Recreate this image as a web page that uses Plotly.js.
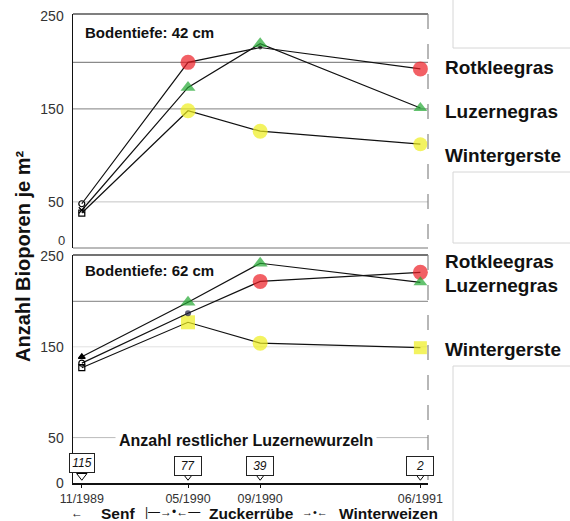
<!DOCTYPE html>
<html>
<head>
<meta charset="utf-8">
<script src="https://cdn.plot.ly/plotly-3.0.1.min.js"></script>
<style>html,body{margin:0;padding:0;background:#fff;}#chart{width:570px;height:521px;}</style>
</head>
<body>
<div id="chart"></div>
<script>
// ---- data ----
const dates = ['1989-11-01', '1990-05-01', '1990-09-01', '1991-06-01'];
const dateLabels = ['11/1989', '05/1990', '09/1990', '06/1991'];
const seriesNames = ['Rotkleegras', 'Luzernegras', 'Wintergerste'];

// Bodentiefe 42 cm
const rot42 = [48, 200, 216, 193];
const luz42 = [41, 173, 220, 151];
const win42 = [38, 148, 126, 112];

// Bodentiefe 62 cm
const rot62 = [132, 187, 222, 232];
const luz62 = [139, 199, 242, 221];
const win62 = [127, 177, 154, 149];

// Anzahl restlicher Luzernewurzeln
const rootCounts = [115, 77, 39, 2];

const yTicksTop = [50, 150, 250];
const yTicksBottom = [0, 50, 150, 250];

// ---- styles ----
const RED = '#ec1c24', GREEN = '#22a832', YEL = '#eeee1c';
const FONT = 'Liberation Sans, Arial, sans-serif';

function tr(y, yaxis, symbols, colors, sizes) {
  return {
    x: dates, y: y, yaxis: yaxis, xaxis: 'x', type: 'scatter', mode: 'lines+markers',
    line: {color: '#111', width: 1.2},
    marker: {symbol: symbols, color: colors, size: sizes, line: {color: '#000', width: 0}},
    cliponaxis: false, showlegend: false, hoverinfo: 'skip'
  };
}
function startMarker(y, yaxis, symbol) {
  return {x: [dates[0]], y: [y], yaxis: yaxis, xaxis: 'x', mode: 'markers', type: 'scatter',
    marker: {symbol: symbol, color: '#000', size: 6, line: {color: '#000', width: 1.2}},
    showlegend: false, hoverinfo: 'skip', cliponaxis: false};
}

const data = [
  // top panel (42 cm)
  tr(win42, 'y2', ['square', 'circle', 'circle', 'circle'], ['rgba(0,0,0,0)', YEL, YEL, YEL], [1, 15, 15, 14]),
  tr(luz42, 'y2', ['triangle-up', 'triangle-up', 'triangle-up', 'triangle-up'], ['rgba(0,0,0,0)', GREEN, GREEN, GREEN], [1, 13, 13, 12]),
  tr(rot42, 'y2', ['circle', 'circle', 'circle', 'circle'], ['rgba(0,0,0,0)', RED, '#111', RED], [1, 15, 4, 15]),
  startMarker(rot42[0], 'y2', 'circle-open'),
  startMarker(luz42[0], 'y2', 'x-thin-open'),
  startMarker(win42[0], 'y2', 'square-open'),
  // bottom panel (62 cm)
  tr(win62, 'y', ['square', 'square', 'circle', 'square'], ['rgba(0,0,0,0)', YEL, YEL, YEL], [1, 14, 15, 13]),
  tr(rot62, 'y', ['circle', 'circle', 'circle', 'circle'], ['rgba(0,0,0,0)', '#1c1c3a', RED, RED], [1, 6, 15, 15]),
  tr(luz62, 'y', ['triangle-up', 'triangle-up', 'triangle-up', 'triangle-up'], ['rgba(0,0,0,0)', GREEN, GREEN, GREEN], [1, 13, 13, 12]),
  startMarker(luz62[0], 'y', 'triangle-up'),
  startMarker(rot62[0], 'y', 'circle-open'),
  startMarker(win62[0], 'y', 'square-open'),
  // pointers under the root-count boxes
  {x: dates, y: dates.map(() => 8), yaxis: 'y', xaxis: 'x', mode: 'markers', type: 'scatter',
   marker: {symbol: 'triangle-down', color: '#fff', size: 9, line: {color: '#000', width: 1}},
   showlegend: false, hoverinfo: 'skip', cliponaxis: false}
];

const PX = px => (px - 73) / 355;   // page x -> paper x
const PY = py => 1 - py / 521;       // page y -> paper y

const annotations = [];
const txt = (text, x, y, size, opts) => Object.assign({
  text: text, xref: 'paper', yref: 'paper', x: x, y: y, showarrow: false,
  font: {family: FONT, size: size, color: '#111'}, xanchor: 'center', yanchor: 'middle'
}, opts || {});

annotations.push(txt('<b>Anzahl Bioporen je m²</b>', PX(23), PY(257), 20, {textangle: -90}));
annotations.push(txt('<b>Bodentiefe: 42 cm</b>', PX(83), PY(32), 15, {xanchor: 'left'}));
annotations.push(txt('<b>Bodentiefe: 62 cm</b>', PX(83), PY(270), 15, {xanchor: 'left'}));
// "0" of the upper panel (drawn separately: it sits just above the lower panel's 250)
annotations.push(txt('0', PX(67), PY(241), 13, {xanchor: 'right', font: {family: FONT, size: 13, color: '#333'}}));
// right labels
const topLabelY = [67, 111, 155], botLabelY = [261, 285, 349];
seriesNames.forEach((n, i) => {
  annotations.push(txt('<b>' + n + '</b>', PX(443), PY(topLabelY[i]), 19, {xanchor: 'left'}));
  annotations.push(txt('<b>' + n + '</b>', PX(443), PY(botLabelY[i]), 19, {xanchor: 'left'}));
});
annotations.push(txt('<b>Anzahl restlicher Luzernewurzeln</b>', PX(246), PY(440), 16, {bgcolor: '#fff', borderpad: 3}));
// root count boxes
rootCounts.forEach((c, i) => {
  annotations.push({
    text: '<i>' + c + '</i>', xref: 'x', yref: 'paper', x: dates[i], y: PY(i === 0 ? 463 : 466),
    showarrow: false, font: {family: FONT, size: 12, color: '#111'},
    bordercolor: '#222', borderwidth: 1, borderpad: 2, bgcolor: '#fff',
    xanchor: 'center', yanchor: 'middle', width: i === 0 ? 20 : 22
  });
});
// crop sequence row
annotations.push(txt('<b>←</b>', PX(77), PY(513), 12));
annotations.push(txt('<b>Senf</b>', PX(118), PY(513), 15.5));
annotations.push(txt('|—→•←—', PX(172), PY(512), 12));
annotations.push(txt('<b>Zuckerrübe</b>', PX(251), PY(513), 15.5));
annotations.push(txt('→•←', PX(315), PY(512), 11));
annotations.push(txt('<b>Winterweizen</b>', PX(388), PY(513), 15.5));

const hline = (yref, y, color, width, dash) => ({
  type: 'line', xref: 'paper', yref: yref, x0: 0, x1: 1, y0: y, y1: y,
  line: {color: color, width: width, dash: dash || 'solid'}, layer: 'below'
});
const shapes = [
  // gridlines top
  hline('y2', 200, '#8a8a8a', 1.2), hline('y2', 150, '#999', 1.2), hline('y2', 50, '#c4c4c4', 1),
  // gridlines bottom
  hline('y', 200, '#999', 1.2), hline('y', 150, '#e2e2e2', 1), hline('y', 50, '#bbb', 1),
  // frames
  {type: 'line', xref: 'paper', yref: 'paper', x0: 0, x1: 1, y0: PY(14), y1: PY(14), line: {color: '#555', width: 1.5}},
  {type: 'line', xref: 'paper', yref: 'paper', x0: 0, x1: 1, y0: PY(248), y1: PY(248), line: {color: '#777', width: 1.2}},
  {type: 'line', xref: 'paper', yref: 'paper', x0: 0, x1: 1, y0: PY(255), y1: PY(255), line: {color: '#444', width: 1.5}},
  {type: 'line', xref: 'paper', yref: 'paper', x0: 1, x1: 1, y0: PY(14), y1: PY(248), line: {color: '#888', width: 1.2, dash: 'longdash'}},
  {type: 'line', xref: 'paper', yref: 'paper', x0: 1, x1: 1, y0: PY(255), y1: PY(483), line: {color: '#888', width: 1.2, dash: 'longdash'}},
  // faint scan boxes on the right
  {type: 'rect', xref: 'paper', yref: 'paper', x0: PX(453), x1: PX(600), y0: PY(48), y1: PY(-10), line: {color: '#d6d6d6', width: 1}},
  {type: 'rect', xref: 'paper', yref: 'paper', x0: PX(453), x1: PX(600), y0: PY(243), y1: PY(172), line: {color: '#d6d6d6', width: 1}},
  {type: 'rect', xref: 'paper', yref: 'paper', x0: PX(453), x1: PX(600), y0: PY(540), y1: PY(366), line: {color: '#d6d6d6', width: 1}}
];

const yax = (domain, range, ticks) => ({
  domain: domain, range: range, tickvals: ticks, ticktext: ticks.map(String),
  showgrid: false, zeroline: false, showline: true, linecolor: '#111', linewidth: 1.5,
  ticks: '', ticklabelstandoff: 5, tickfont: {family: FONT, size: 14, color: '#333'}, fixedrange: true
});

const layout = {
  width: 570, height: 521,
  margin: {l: 73, r: 142, t: 0, b: 0},
  paper_bgcolor: '#fff', plot_bgcolor: 'rgba(0,0,0,0)',
  showlegend: false,
  xaxis: {
    type: 'date', range: ['1989-10-17', '1991-06-14'], anchor: 'y',
    tickvals: dates, ticktext: dateLabels, showgrid: false, zeroline: false,
    showline: true, linecolor: '#111', linewidth: 1.5,
    ticks: 'outside', ticklen: 3, tickcolor: '#111',
    tickfont: {family: FONT, size: 12.5, color: '#333'}, fixedrange: true
  },
  yaxis: yax([PY(483), PY(255)], [0, 251.1], yTicksBottom),
  yaxis2: Object.assign(yax([PY(248.4), PY(14)], [0, 252], yTicksTop), {anchor: 'x'}),
  shapes: shapes,
  annotations: annotations
};

Plotly.newPlot('chart', data, layout, {displayModeBar: false, staticPlot: true});
</script>
</body>
</html>
